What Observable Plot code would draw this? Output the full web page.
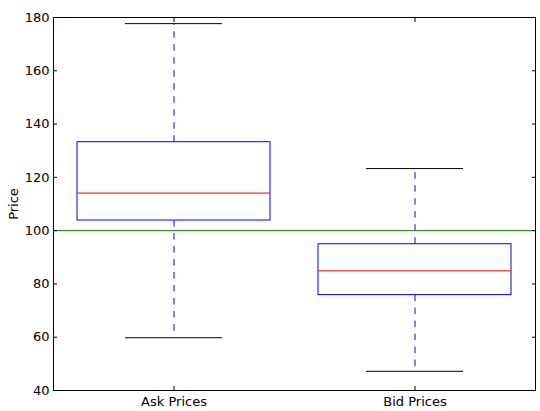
<!DOCTYPE html>
<html>
<head>
<meta charset="utf-8">
<script src="https://cdn.jsdelivr.net/npm/d3@7"></script>
<script src="https://cdn.jsdelivr.net/npm/@observablehq/plot@0.6"></script>
<style>
  html, body { margin: 0; padding: 0; background: #fff; }
  #chart svg { display: block; }
</style>
</head>
<body>
<div id="chart"></div>
<script>
const categories = ["Ask Prices", "Bid Prices"];
const whiskerLow = [59.8, 47.2];
const q1 = [103.8, 75.8];
const median = [114.1, 84.9];
const q3 = [133.2, 94.9];
const whiskerHigh = [177.7, 123.3];
const referenceLine = [100];
const yTicks = [40, 60, 80, 100, 120, 140, 160, 180];

const boxes = categories.map((c, i) => ({
  cat: c, lo: whiskerLow[i], q1: q1[i], med: median[i], q3: q3[i], hi: whiskerHigh[i]
}));

const font = "DejaVu Sans, sans-serif";

const plot = Plot.plot({
  width: 540,
  height: 411,
  marginLeft: 53,
  marginRight: 5,
  marginTop: 17,
  marginBottom: 21,
  style: { fontFamily: font, fontSize: "13px", color: "#000", background: "#fff", overflow: "visible" },
  x: { type: "band", domain: categories, paddingInner: 0.2, paddingOuter: 0.1, label: null },
  y: { domain: [40, 180], label: null },
  marks: [
    // whiskers (drawn outward from the box)
    Plot.ruleX(boxes, { x: "cat", y1: "q3", y2: "hi", stroke: "#0000ff", strokeWidth: 1, strokeDasharray: "6.5,6.5" }),
    Plot.ruleX(boxes, { x: "cat", y1: "q1", y2: "lo", stroke: "#0000ff", strokeWidth: 1, strokeDasharray: "6.5,6.5" }),
    // caps
    Plot.tickY(boxes, { x: "cat", y: "hi", stroke: "#000", strokeWidth: 1, insetLeft: 48, insetRight: 48 }),
    Plot.tickY(boxes, { x: "cat", y: "lo", stroke: "#000", strokeWidth: 1, insetLeft: 48, insetRight: 48 }),
    // reference line
    Plot.ruleY(referenceLine, { stroke: "#008000", strokeWidth: 1 }),
    // boxes
    Plot.barY(boxes, { x: "cat", y1: "q1", y2: "q3", fill: "none", stroke: "#0000ff", strokeWidth: 1 }),
    // medians
    Plot.tickY(boxes, { x: "cat", y: "med", stroke: "#ff0000", strokeWidth: 1 }),
    // axes
    Plot.axisY({ anchor: "left", ticks: yTicks, tickSize: -4, tickPadding: 8, label: "Price", labelAnchor: "center", labelArrow: "none", labelOffset: 45, fontSize: 13 }),
    Plot.axisY({ anchor: "right", ticks: yTicks, tickSize: -4, tickFormat: () => "", label: null }),
    Plot.axisX({ anchor: "bottom", tickSize: -4, tickPadding: 10, label: null, fontSize: 13 }),
    Plot.axisX({ anchor: "top", tickSize: -4, tickFormat: () => "", label: null }),
    Plot.frame({ stroke: "#000", strokeWidth: 1 })
  ]
});
document.getElementById("chart").appendChild(plot);
</script>
</body>
</html>
